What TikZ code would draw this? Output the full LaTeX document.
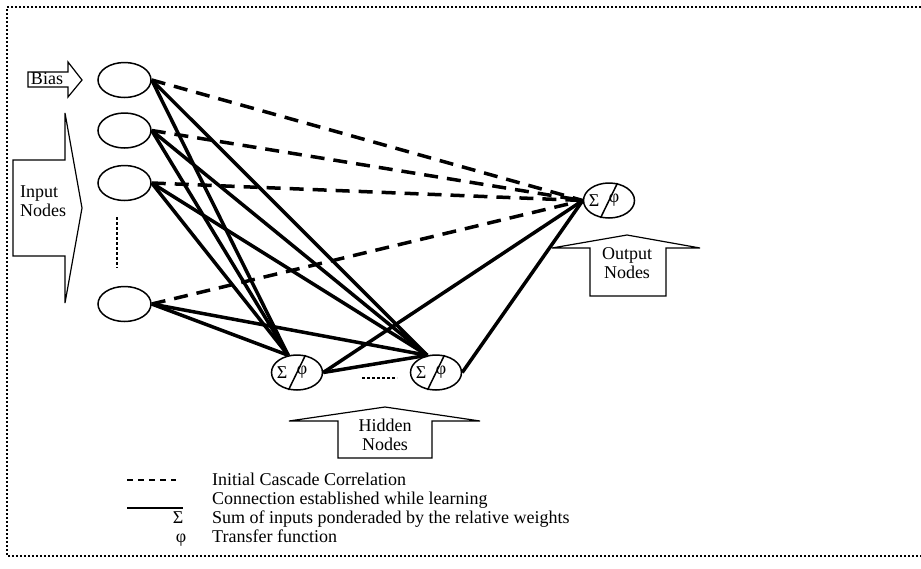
\documentclass[tikz,border=0pt]{standalone}
\usepackage{fontspec}
\setmainfont{Liberation Serif}
\usetikzlibrary{shapes.geometric, positioning, calc}

% ellipse split by a slash, with the sum and the transfer symbol
\newcommand{\sumnode}[2]{%
    \node[unit, minimum width=51pt] (#1) at (#2) {};
    \draw[thin line] ($(#1.center)+(-8.5,17.5)$) -- ($(#1.center)+(8.5,-17.5)$);
    \node[sym] (#1-sum) at ($(#1.center)+(-15,0)$) {Σ};
    \node[sym] (#1-phi) at ($(#1.center)+(5,0)$) {φ};
}

\begin{document}
\begin{tikzpicture}[
    x=1pt, y=-1pt,
    font=\fontsize{18}{19.5}\selectfont,
    unit/.style={ellipse, draw, line width=1.5pt, minimum width=53pt, minimum height=35pt, inner sep=0pt},
    thin line/.style={line width=1.5pt},
    sym/.style={inner sep=0pt},
    learnt/.style={line width=3.5pt},
    initial/.style={line width=3.5pt, dash pattern=on 14pt off 9pt},
    bigarrow/.style={draw, line width=1.2pt, line join=miter},
    arrowtext/.style={align=center, inner sep=0pt},
    dotline/.style={line width=2.5pt, dash pattern=on 2.5pt off 2.5pt},
    frame/.style={line width=2pt, dash pattern=on 2pt off 2pt},
    legendtext/.style={anchor=base west, inner sep=0pt}
]
    \useasboundingbox (0,0) rectangle (921,568);

    % Frame
    \draw[frame] (921,7) -- (7,7) -- (7,556) -- (921,556);

    % Input layer
    \node[unit] (bias) at (124.5,80) {};
    \node[unit] (inA) at (124.5,130.5) {};
    \node[unit] (inB) at (124.5,183) {};
    \node[unit] (inN) at (124.5,304) {};
    \draw[dotline] (117,217) -- (117,268);

    % Hidden and output units
    \sumnode{hidA}{297,372.5}
    \sumnode{hidB}{436,372.5}
    \sumnode{out}{609,200.5}
    \draw[dotline] (362,378) -- (397,378);

    % Big arrows
    \draw[bigarrow] (28,72) -- (68,72) -- (68,62) -- (82,80) -- (68,97) -- (68,87) -- (28,87) -- cycle;
    \node[arrowtext] (biastext) at (47,79) {Bias};
    \draw[bigarrow] (13,160) -- (65,160) -- (65,113) -- (82,208) -- (65,303) -- (65,256) -- (13,256) -- cycle;
    \node[arrowtext, align=left, anchor=west] (intext) at (20,201) {Input\\Nodes};
    \draw[bigarrow] (338,458) -- (338,421) -- (289,421) -- (385,407) -- (480,421) -- (432,421) -- (432,458) -- cycle;
    \node[arrowtext] (hidtext) at (385,435) {Hidden\\Nodes};
    \draw[bigarrow] (590,296) -- (590,248) -- (552,248) -- (627,235) -- (700,248) -- (666,248) -- (666,296) -- cycle;
    \node[arrowtext] (outtext) at (627,263) {Output\\Nodes};

    % Initial connections
    \foreach \n in {bias, inA, inB, inN}
        \draw[initial] (\n.east) -- (out.west);

    % Connections added while learning
    \foreach \n in {bias, inA, inB, inN} {
        \draw[learnt] (\n.east) -- (hidA.117);
        \draw[learnt] (\n.east) -- (hidB.117);
    }
    \draw[learnt] (hidA.east) -- (hidB.117);
    \draw[learnt] (hidA.east) -- (out.west);
    \draw[learnt] (hidB.east) -- (out.west);

    % Legend
    \draw[line width=1.3pt, dash pattern=on 6pt off 5pt] (127,480) -- (176,480);
    \draw[line width=1.3pt] (127,508) -- (183,508);
    \node[legendtext] (lgA) at (212,485) {Initial Cascade Correlation};
    \node[legendtext] (lgB) at (212,504) {Connection established while learning};
    \node[sym, anchor=base] (lgsum) at (178,523) {Σ};
    \node[legendtext] (lgC) at (212,523) {Sum of inputs ponderaded by the relative weights};
    \node[sym, anchor=base] (lgphi) at (181,542) {φ};
    \node[legendtext] (lgD) at (212,542) {Transfer function};
\end{tikzpicture}
\end{document}
